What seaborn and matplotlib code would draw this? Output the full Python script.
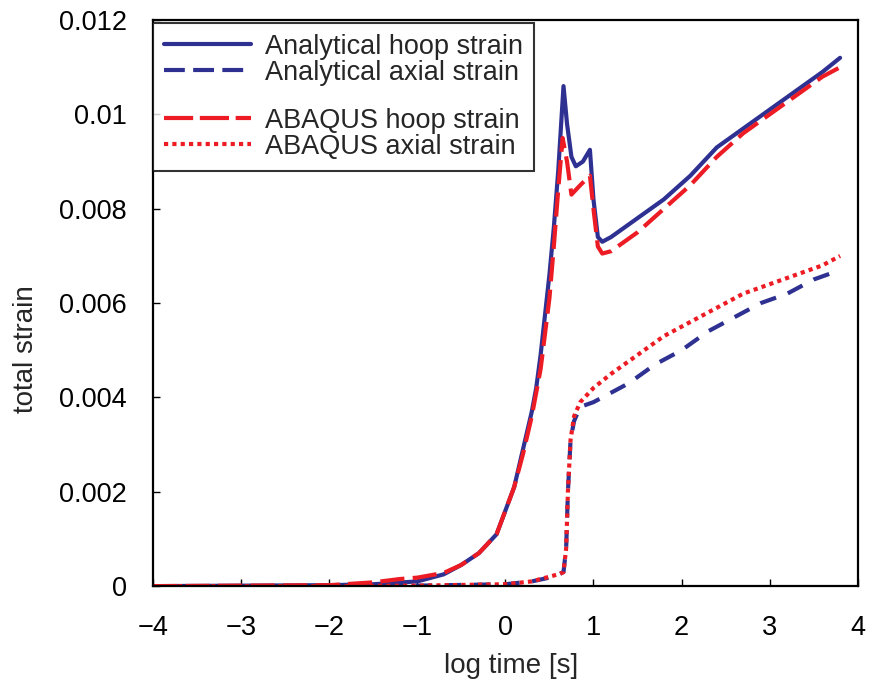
import numpy as np
import pandas as pd
import matplotlib
matplotlib.use("Agg")
import matplotlib.pyplot as plt
import seaborn as sns
from matplotlib.lines import Line2D

# ---- data ----
hoop_an_x = [-4, -3, -2, -1.5, -1, -0.7, -0.5, -0.3, -0.1, 0, 0.1, 0.2, 0.3, 0.35, 0.4, 0.5, 0.55, 0.6,
             0.66, 0.7, 0.75, 0.8, 0.88, 0.96, 1.0, 1.05, 1.1, 1.2, 1.5, 1.8, 2.1, 2.4, 2.7, 3.0, 3.3, 3.6, 3.8]
hoop_an_y = [0, 0.00001, 0.00002, 0.00004, 0.0001, 0.00025, 0.00045, 0.0007, 0.0011, 0.0016, 0.0021, 0.0029,
             0.0037, 0.0042, 0.0049, 0.0066, 0.0076, 0.0088, 0.0106, 0.0098, 0.0091, 0.0089, 0.0090, 0.00925,
             0.0082, 0.0074, 0.0073, 0.0074, 0.0078, 0.0082, 0.0087, 0.0093, 0.0097, 0.0101, 0.0105, 0.0109, 0.0112]

hoop_ab_x = [-4, -2, -1.5, -1.2, -1, -0.7, -0.5, -0.3, -0.1, 0, 0.1, 0.2, 0.3, 0.4, 0.5, 0.55, 0.6, 0.65,
             0.7, 0.75, 0.85, 0.96, 1.0, 1.05, 1.1, 1.2, 1.5, 1.8, 2.1, 2.4, 2.7, 3.0, 3.3, 3.6, 3.8]
hoop_ab_y = [0, 0.00002, 0.00008, 0.00015, 0.00018, 0.00028, 0.00045, 0.0007, 0.0011, 0.0016, 0.0021, 0.0028,
             0.0036, 0.0046, 0.0061, 0.0072, 0.0084, 0.0095, 0.0090, 0.0083, 0.0085, 0.0087, 0.0080, 0.0072,
             0.00705, 0.0071, 0.0075, 0.0080, 0.0085, 0.0091, 0.0096, 0.0100, 0.0104, 0.0108, 0.0110]

axial_an_x = [-4, -2, -1, 0, 0.3, 0.5, 0.62, 0.66, 0.69, 0.71, 0.74, 0.78, 0.85, 1.0, 1.1, 1.4, 1.7, 2.0,
              2.3, 2.6, 2.9, 3.2, 3.5, 3.8]
axial_an_y = [0, 0, 0.00001, 0.00004, 0.0001, 0.00018, 0.00026, 0.0003, 0.0008, 0.002, 0.0031, 0.0035, 0.0038,
              0.0039, 0.0040, 0.0043, 0.0047, 0.0050, 0.0054, 0.0057, 0.0060, 0.0062, 0.0065, 0.0067]

axial_ab_x = [-4, -2, -1, 0, 0.3, 0.5, 0.62, 0.66, 0.69, 0.71, 0.74, 0.78, 0.85, 0.95, 1.0, 1.2, 1.5, 1.8,
              2.1, 2.4, 2.7, 3.0, 3.3, 3.6, 3.8]
axial_ab_y = [0, 0, 0.00001, 0.00004, 0.0001, 0.0002, 0.00026, 0.0003, 0.0008, 0.002, 0.0031, 0.0036, 0.0039,
              0.0041, 0.0042, 0.0045, 0.0049, 0.0053, 0.0056, 0.0059, 0.0062, 0.0064, 0.0066, 0.0068, 0.0070]

labels = ["Analytical hoop strain", "Analytical axial strain", "ABAQUS hoop strain", "ABAQUS axial strain"]
x_ticks = [-4, -3, -2, -1, 0, 1, 2, 3, 4]
x_ticklabels = ["\u22124", "\u22123", "\u22122", "\u22121", "0", "1", "2", "3", "4"]
y_ticks = [0, 0.002, 0.004, 0.006, 0.008, 0.01, 0.012]
y_ticklabels = ["0", "0.002", "0.004", "0.006", "0.008", "0.01", "0.012"]

BLUE = "#2E3192"
RED = "#ED1C24"

sns.set_style("white")
plt.rcParams["font.family"] = ["Liberation Sans", "DejaVu Sans"]

fig = plt.figure(figsize=(8.77, 6.92), dpi=100)
ax = fig.add_axes([0.1745, 0.153, 0.8035, 0.818])

LW = 3.0
series = [
    (hoop_an_x, hoop_an_y, BLUE, None),
    (axial_an_x, axial_an_y, BLUE, (4.0, 3.0)),
    (hoop_ab_x, hoop_ab_y, RED, (5.8, 2.0)),
    (axial_ab_x, axial_ab_y, RED, (1, 1)),
]
handles = []
for (xs, ys, c, dash), lab in zip(series, labels):
    df = pd.DataFrame({"x": xs, "y": ys})
    sns.lineplot(data=df, x="x", y="y", ax=ax, color=c, linewidth=LW, sort=False, estimator=None)
    ln = ax.lines[-1]
    if dash is not None:
        ln.set_dashes(dash)
        ln.set_dash_capstyle("butt")
    h = Line2D([0], [0], color=c, linewidth=LW)
    handles.append(h)

# legend (with a blank gap between groups)
blank = Line2D([0], [0], color="none")
hs = [handles[0], handles[1], blank, handles[2], handles[3]]
ls_ = [labels[0], labels[1], " ", labels[2], labels[3]]
leg = ax.legend(hs, ls_, loc="upper left", bbox_to_anchor=(0.0, 0.995), borderaxespad=0.0,
                fontsize=19.5, handlelength=3.2, handletextpad=0.55, labelspacing=0.0,
                borderpad=0.4, frameon=True, fancybox=False)
leg.get_frame().set_edgecolor("black")
leg.get_frame().set_linewidth(1.5)
leg.get_texts()[2].set_fontsize(10)
for idx, dash in zip((1, 3, 4), [(5, 2), (7, 1.6), (1, 1)]):
    lh = leg.legend_handles[idx]
    lh.set_dashes(dash)
    lh.set_dash_capstyle("butt")

ax.set_xlim(-4, 4)
ax.set_ylim(0, 0.012)
ax.set_xticks(x_ticks)
ax.set_xticklabels(x_ticklabels)
ax.set_yticks(y_ticks)
ax.set_yticklabels(y_ticklabels)
ax.tick_params(axis="both", which="both", direction="in", length=5, width=1, labelsize=19.5,
               bottom=True, left=True, top=False, right=False, colors="black")
ax.tick_params(axis="x", pad=21)
ax.tick_params(axis="y", pad=19)
for s in ax.spines.values():
    s.set_visible(True)
    s.set_color("black")
    s.set_linewidth(1.6)
ax.set_xlabel("log time [s]", fontsize=20)
ax.set_ylabel("total strain", fontsize=20)
ax.xaxis.set_label_coords(0.508, -0.118)
ax.yaxis.set_label_coords(-0.162, 0.419)

fig.savefig("out.png", dpi=100)
